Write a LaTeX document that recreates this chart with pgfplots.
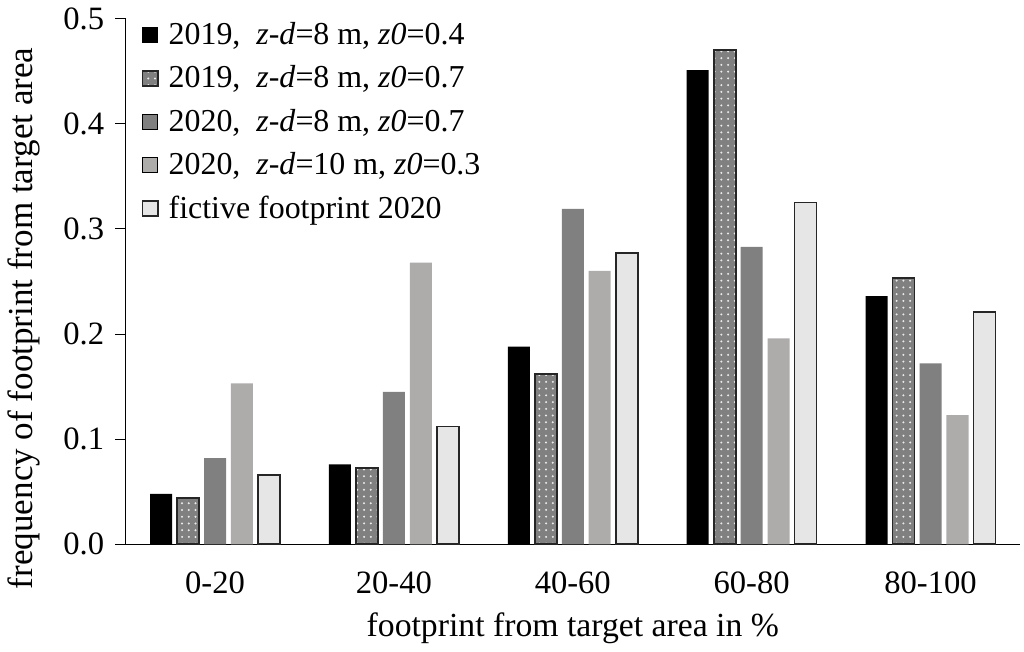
\documentclass[border=0pt]{standalone}
\usepackage{pgfplots}
\pgfplotsset{compat=1.18}
\usepackage{fontspec}
\setmainfont{Liberation Serif}
\usetikzlibrary{patterns}
\definecolor{dgray}{RGB}{128,128,128}
\definecolor{lgray}{RGB}{174,171,171}
\definecolor{vlgray}{RGB}{230,230,230}
\begin{document}
\begin{tikzpicture}
\begin{axis}[
    scale only axis,
    width=398pt, height=234pt,
    ybar=2.2pt, bar width=9.8pt,
    ymin=0, ymax=0.5,
    ytick={0,0.1,...,0.5},
    xmin=-0.5, xmax=4.5,
    xtick={0,1,2,3,4},
    xticklabels={0-20,20-40,40-60,60-80,80-100},
    axis x line*=bottom, axis y line*=left,
    x axis line style={-}, y axis line style={-},
    x tick style={draw=none},
    y tick style={black, thin},
    ytick align=outside, major tick length=4.5pt,
    /pgf/number format/fixed, /pgf/number format/fixed zerofill,
    /pgf/number format/precision=1,
    /pgf/number format/assume math mode=true,
    tick label style={font=\fontsize{14.5}{17}\selectfont},
    yticklabel style={xshift=-1.5pt},
    xticklabel style={yshift=-4.2pt},
    xlabel={footprint from target area in \%},
    ylabel={frequency of footprint from target area},
    ylabel style={font=\fontsize{15.6}{18}\selectfont, at={(axis description cs:-0.114,0.43)}, anchor=center},
    xlabel style={font=\fontsize{15}{17}\selectfont, at={(axis description cs:0.5,0)}, anchor=north, yshift=-27pt},
    legend style={draw=none, fill=none, at={(0.01,1.0)}, anchor=north west, yshift=2.7pt,
        font=\fontsize{14.2}{16}\selectfont, row sep=4pt,
        /tikz/every odd column/.append style={column sep=2.5pt}},
    legend cell align=left,
    legend image code/.code={\draw[#1] (0pt,-3.35pt) rectangle (6.7pt,3.35pt);},
]
\addplot[fill=black, draw=none] coordinates {(0,0.048) (1,0.076) (2,0.188) (3,0.451) (4,0.236)};
\addlegendentry{2019,\ \ \textit{z-d}=8 m, \textit{z0}=0.4}
\addplot[fill=dgray, draw=black!85, line width=0.8pt, postaction={pattern=dots, pattern color=white!85!gray}] coordinates {(0,0.044) (1,0.073) (2,0.162) (3,0.470) (4,0.253)};
\addlegendentry{2019,\ \ \textit{z-d}=8 m, \textit{z0}=0.7}
\addplot[fill=dgray, draw=none] coordinates {(0,0.082) (1,0.145) (2,0.319) (3,0.283) (4,0.172)};
\addlegendentry{2020,\ \ \textit{z-d}=8 m, \textit{z0}=0.7}
\addplot[fill=lgray, draw=none] coordinates {(0,0.153) (1,0.268) (2,0.260) (3,0.196) (4,0.123)};
\addlegendentry{2020,\ \ \textit{z-d}=10 m, \textit{z0}=0.3}
\addplot[fill=vlgray, draw=black!85, line width=0.8pt] coordinates {(0,0.066) (1,0.112) (2,0.277) (3,0.325) (4,0.221)};
\addlegendentry{fictive footprint 2020}
\end{axis}
\path (current axis.south west) ++(-55.6pt,-45.8pt);
\path (current axis.north east) ++(1.8pt,8pt);
\end{tikzpicture}
\end{document}
